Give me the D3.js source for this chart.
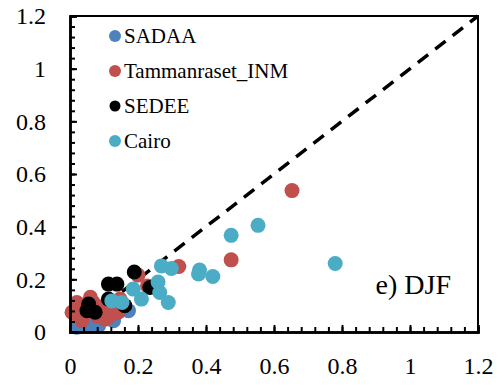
<!DOCTYPE html>
<html>
<head>
<meta charset="utf-8">
<script src="https://cdn.jsdelivr.net/npm/d3@7"></script>
<style>
  html, body { margin: 0; padding: 0; background: #fff; }
  svg { display: block; }
  svg text { font-family: "Liberation Serif", "Times New Roman", Tinos, serif; }
</style>
</head>
<body>
<svg id="chart" width="501" height="385"></svg>
<script>
// Series: observed (x) vs. retrieved (y) values, DJF season
const seriesNames = ["SADAA", "Tammanraset_INM", "SEDEE", "Cairo"];
const seriesColors = ["#4F81BD", "#C0504D", "#000000", "#4BACC6"];

const sadaaX = [0.02, 0.03, 0.06, 0.084, 0.108, 0.128, 0.172, 0.04];
const sadaaY = [0.018, 0.03, 0.024, 0.024, 0.062, 0.043, 0.081, 0.05];

const tamX = [0.006, 0.02, 0.024, 0.035, 0.044, 0.06, 0.068, 0.08, 0.104, 0.118, 0.117, 0.142, 0.147, 0.13, 0.09, 0.2, 0.228, 0.32, 0.474, 0.653];
const tamY = [0.075, 0.112, 0.06, 0.043, 0.09, 0.132, 0.112, 0.06, 0.049, 0.062, 0.08, 0.075, 0.125, 0.1, 0.095, 0.216, 0.175, 0.249, 0.274, 0.537];

const sedeeX = [0.055, 0.05, 0.074, 0.113, 0.113, 0.138, 0.161, 0.189, 0.235];
const sedeeY = [0.106, 0.081, 0.075, 0.125, 0.182, 0.182, 0.1, 0.228, 0.169];

const cairoX = [0.123, 0.153, 0.186, 0.21, 0.259, 0.264, 0.289, 0.269, 0.298, 0.381, 0.378, 0.42, 0.474, 0.553, 0.78];
const cairoY = [0.118, 0.112, 0.163, 0.125, 0.19, 0.15, 0.112, 0.251, 0.241, 0.235, 0.22, 0.211, 0.367, 0.405, 0.26];

const majorTicks = [0, 0.2, 0.4, 0.6, 0.8, 1, 1.2];
const tickLabels = ["0", "0.2", "0.4", "0.6", "0.8", "1", "1.2"];
const minorTicks = d3.range(0, 1.2001, 0.04);
const panelLabel = "e) DJF";

const FONT = '"Liberation Serif", "Times New Roman", Tinos, serif';

const series = [
  { xs: sadaaX, ys: sadaaY },
  { xs: tamX, ys: tamY },
  { xs: sedeeX, ys: sedeeY },
  { xs: cairoX, ys: cairoY }
].map((s, i) => ({ name: seriesNames[i], color: seriesColors[i],
  pts: s.xs.map((x, j) => ({ x, y: s.ys[j] })) }));

const svg = d3.select("#chart");
const L = 70, R = 478, T = 16, B = 332;

const x = d3.scaleLinear().domain([0, 1.2]).range([L, R]);
const y = d3.scaleLinear().domain([0, 1.2]).range([B, T]);

// top and right frame
svg.append("path")
  .attr("d", `M${L},${T}H${R}V${B}`)
  .attr("fill", "none").attr("stroke", "#000").attr("stroke-width", 2);

// 1:1 reference line
svg.append("line")
  .attr("x1", x(0)).attr("y1", y(0)).attr("x2", x(1.2)).attr("y2", y(1.2))
  .attr("stroke", "#000").attr("stroke-width", 3.5)
  .attr("stroke-dasharray", "13,9");

// points, drawn series by series
series.forEach(s => {
  svg.append("g").selectAll("circle").data(s.pts).join("circle")
    .attr("cx", d => x(d.x)).attr("cy", d => y(d.y))
    .attr("r", 7.5).attr("fill", s.color);
});

// axes with inward ticks
const fmt = d => tickLabels[majorTicks.findIndex(t => Math.abs(t - d) < 1e-9)];

const xAxisMinor = d3.axisBottom(x).tickValues(minorTicks).tickSize(-5).tickFormat("");
const xAxisMajor = d3.axisBottom(x).tickValues(majorTicks).tickSize(-7).tickPadding(25).tickFormat(fmt);
const yAxisMinor = d3.axisLeft(y).tickValues(minorTicks).tickSize(-5).tickFormat("");
const yAxisMajor = d3.axisLeft(y).tickValues(majorTicks).tickSize(-7).tickPadding(24).tickFormat(fmt);

function styleAxis(g) {
  g.attr("font-family", null).attr("font-size", null);
  g.select(".domain").attr("stroke", "#000").attr("stroke-width", 2.5);
  g.selectAll(".tick line").attr("stroke", "#000").attr("stroke-width", 2);
  g.selectAll(".tick text").attr("fill", "#000")
    .style("font-family", FONT).style("font-size", "24px");
}

svg.append("g").attr("transform", `translate(0,${B})`).call(xAxisMinor).call(styleAxis);
svg.append("g").attr("transform", `translate(0,${B})`).call(xAxisMajor).call(styleAxis);
svg.append("g").attr("transform", `translate(${L},0)`).call(yAxisMinor).call(styleAxis);
svg.append("g").attr("transform", `translate(${L},0)`).call(yAxisMajor).call(styleAxis);

// legend
const leg = svg.append("g");
seriesNames.forEach((name, i) => {
  const cy = 36 + i * 35;
  leg.append("circle").attr("cx", 115).attr("cy", cy).attr("r", i === 2 ? 5.5 : 6).attr("fill", seriesColors[i]);
  leg.append("text").attr("x", 124).attr("y", cy).attr("dy", "0.35em")
    .style("font-family", FONT).style("font-size", "21px").attr("fill", "#000").text(name);
});

// panel label
svg.append("text").attr("x", 451).attr("y", 294).attr("text-anchor", "end")
  .style("font-family", FONT).style("font-size", "28px").attr("fill", "#000").text(panelLabel);
</script>
</body>
</html>
